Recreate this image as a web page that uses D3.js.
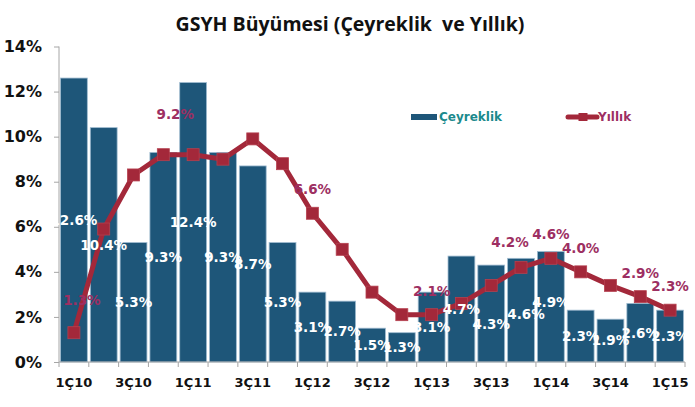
<!DOCTYPE html>
<html>
<head>
<meta charset="utf-8">
<script src="https://cdn.jsdelivr.net/npm/d3@7"></script>
<style>
  html, body { margin: 0; padding: 0; background: #fff; }
  svg { display: block; }
</style>
</head>
<body>
<svg id="chart" width="695" height="407"></svg>
<script>
// ---- Data ----
const categories = ["1Ç10","2Ç10","3Ç10","4Ç10","1Ç11","2Ç11","3Ç11","4Ç11",
                    "1Ç12","2Ç12","3Ç12","4Ç12","1Ç13","2Ç13","3Ç13","4Ç13",
                    "1Ç14","2Ç14","3Ç14","4Ç14","1Ç15"];
const quarterly = [12.6,10.4,5.3,9.3,12.4,9.3,8.7,5.3,3.1,2.7,1.5,1.3,3.1,4.7,4.3,4.6,4.9,2.3,1.9,2.6,2.3];
const annual    = [1.3,5.9,8.3,9.2,9.2,9.0,9.9,8.8,6.6,5.0,3.1,2.1,2.1,2.6,3.4,4.2,4.6,4.0,3.4,2.9,2.3];
// which annual points carry a data label
const annualLabelled = ["1Ç10","4Ç10","1Ç12","1Ç13","4Ç13","1Ç14","2Ç14","4Ç14","1Ç15"];
const yTicks = [0,2,4,6,8,10,12,14];
const xTickLabels = ["1Ç10","3Ç10","1Ç11","3Ç11","1Ç12","3Ç12","1Ç13","3Ç13","1Ç14","3Ç14","1Ç15"];
const seriesNames = ["Çeyreklik","Yıllık"];
const title = "GSYH Büyümesi (Çeyreklik  ve Yıllık)";

// ---- Styles ----
const BAR = "#1E5679", BAR_STROKE = "#9FBBD0";
const LINE = "#A3283A", LINE_LABEL = "#9D2F62", LEG_TEAL = "#1B8A8C";
const AXIS = "#A6A6A6";
const FONT = "'DejaVu Sans', Verdana, sans-serif";

const svg = d3.select("#chart");
const x = d3.scaleBand().domain(categories).range([59, 685]).paddingInner(0.1).paddingOuter(0.05);
const y = d3.scaleLinear().domain([0, 14]).range([362, 46.5]);
const cx = c => x(c) + x.bandwidth() / 2;

// Title
svg.append("text").attr("x", 350).attr("y", 31).attr("text-anchor", "middle")
  .style("white-space", "pre")
  .attr("font-family", "'Open Sans', 'Noto Sans', sans-serif").attr("font-weight", "bold")
  .attr("font-size", 19.5).attr("fill", "#111").text(title);

// Bars
svg.append("g").selectAll("rect").data(categories).join("rect")
  .attr("x", c => x(c)).attr("width", x.bandwidth())
  .attr("y", (c, i) => y(quarterly[i])).attr("height", (c, i) => y(0) - y(quarterly[i]))
  .attr("fill", BAR).attr("stroke", BAR_STROKE).attr("stroke-width", 0.8);

// Line
const line = d3.line().x((v, i) => cx(categories[i])).y(v => y(v));
svg.append("path").datum(annual).attr("d", line)
  .attr("fill", "none").attr("stroke", LINE).attr("stroke-width", 5).attr("stroke-linejoin", "round");
const MK = 12;
svg.append("g").selectAll("rect").data(annual).join("rect")
  .attr("x", (v, i) => cx(categories[i]) - MK / 2).attr("y", v => y(v) - MK / 2)
  .attr("width", MK).attr("height", MK).attr("fill", LINE).attr("stroke", "#B5404F").attr("stroke-width", 0.8);

// Axes
const gy = svg.append("g").attr("transform", "translate(59,0)")
  .call(d3.axisLeft(y).tickValues(yTicks).tickFormat(d => d + "%").tickSize(5).tickPadding(12));
gy.select(".domain").attr("stroke", AXIS).attr("d", "M0," + y(0) + "V" + y(14));
gy.selectAll(".tick line").attr("stroke", AXIS);
gy.selectAll(".tick text").attr("font-family", FONT).attr("font-weight", "bold")
  .attr("font-size", 16).attr("fill", "#111");

const gx = svg.append("g").attr("transform", "translate(0," + y(0) + ")")
  .call(d3.axisBottom(x).tickValues(xTickLabels).tickSize(0).tickPadding(16));
gx.select(".domain").attr("stroke", AXIS).attr("d", "M59,0H685");
gx.selectAll(".tick text").attr("font-family", FONT).attr("font-weight", "bold")
  .attr("font-size", 13).attr("fill", "#111");
// category boundary ticks
const step = x.step();
gx.append("g").selectAll("line").data(d3.range(categories.length + 1)).join("line")
  .attr("x1", i => 59 + i * step).attr("x2", i => 59 + i * step)
  .attr("y1", 0).attr("y2", 5).attr("stroke", AXIS);

// Bar labels (centered in bar, a few nudged)
const barNudge = { "3Ç13": [0, 11], "4Ç13": [5, 4], "1Ç14": [0, -5] };
svg.append("g").selectAll("text").data(categories).join("text")
  .attr("x", c => cx(c) + (barNudge[c] ? barNudge[c][0] : 0))
  .attr("y", (c, i) => (y(0) + y(quarterly[i])) / 2 + (barNudge[c] ? barNudge[c][1] : 0))
  .attr("dy", "0.36em").attr("text-anchor", "middle")
  .attr("font-family", FONT).attr("font-weight", "bold").attr("font-size", 13.5)
  .attr("fill", "#fff").text((c, i) => quarterly[i].toFixed(1) + "%");

// Annual labels
const lineNudge = { "1Ç10": [8, -33], "4Ç10": [12, -41], "4Ç13": [-11, -25] };
svg.append("g").selectAll("text").data(annualLabelled).join("text")
  .attr("x", c => cx(c) + (lineNudge[c] ? lineNudge[c][0] : 0))
  .attr("y", c => y(annual[categories.indexOf(c)]) + (lineNudge[c] ? lineNudge[c][1] : -24))
  .attr("dy", "0.36em").attr("text-anchor", "middle")
  .attr("font-family", FONT).attr("font-weight", "bold").attr("font-size", 13.5)
  .attr("fill", LINE_LABEL).text(c => annual[categories.indexOf(c)].toFixed(1) + "%");

// Legend
const lg = svg.append("g");
lg.append("rect").attr("x", 411).attr("y", 114).attr("width", 26).attr("height", 6).attr("fill", BAR);
lg.append("text").attr("x", 439).attr("y", 121).attr("font-family", FONT).attr("font-weight", "bold")
  .attr("font-size", 12).attr("fill", LEG_TEAL).text(seriesNames[0]);
lg.append("line").attr("x1", 568).attr("x2", 597).attr("y1", 117).attr("y2", 117)
  .attr("stroke", LINE).attr("stroke-width", 5).attr("stroke-linecap", "round");
lg.append("rect").attr("x", 578.5).attr("y", 113).attr("width", 9).attr("height", 8).attr("fill", LINE);
lg.append("text").attr("x", 598).attr("y", 121).attr("font-family", FONT).attr("font-weight", "bold")
  .attr("font-size", 12).attr("fill", LINE_LABEL).text(seriesNames[1]);
</script>
</body>
</html>
